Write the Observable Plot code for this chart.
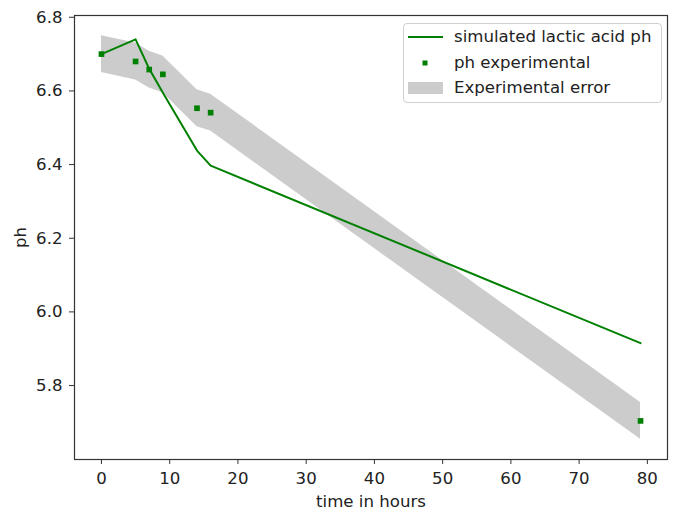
<!DOCTYPE html>
<html>
<head>
<meta charset="utf-8">
<script src="https://cdn.jsdelivr.net/npm/d3@7"></script>
<script src="https://cdn.jsdelivr.net/npm/@observablehq/plot@0.6"></script>
<style>
  html, body { margin: 0; padding: 0; background: #fff; }
  #wrap { position: relative; width: 674px; height: 511px; font-family: "DejaVu Sans", sans-serif; }
  #legend { position: absolute; left: 403px; top: 23px; width: 259px; height: 80px; box-sizing: border-box;
            border: 1px solid #d0d0d0; border-radius: 4px; background: rgba(255,255,255,0.85); }
  .row { position: absolute; left: 0; height: 24px; width: 100%; }
  .row span { position: absolute; left: 50px; top: 0; line-height: 24px; font-size: 16.6px; color: #222; white-space: nowrap; }
  .row svg { position: absolute; left: 0; top: 0; }
</style>
</head>
<body>
<div id="wrap">
  <div id="chart"></div>
  <div id="legend">
    <div class="row" style="top:0.5px"><svg width="50" height="24"><line x1="4" x2="39" y1="12" y2="12" stroke="green" stroke-width="2"/></svg><span>simulated lactic acid ph</span></div>
    <div class="row" style="top:26.5px"><svg width="50" height="24"><rect x="18.5" y="9.5" width="5" height="5" fill="green"/></svg><span>ph experimental</span></div>
    <div class="row" style="top:52px"><svg width="50" height="24"><rect x="4" y="6" width="35" height="12" fill="#cccccc"/></svg><span>Experimental error</span></div>
  </div>
</div>
<script>
const hours = [0, 5, 7, 9, 14, 16, 79];
const phExperimental = [6.700, 6.680, 6.658, 6.645, 6.553, 6.541, 5.704];
const phSimulated = [6.700, 6.740, 6.660, 6.595, 6.438, 6.397, 5.915];
const experimentalError = [0.05, 0.05, 0.05, 0.05, 0.05, 0.05, 0.05];
const xTicks = [0, 10, 20, 30, 40, 50, 60, 70, 80];
const yTicks = [5.8, 6.0, 6.2, 6.4, 6.6, 6.8];

const data = hours.map((h, i) => ({
  hours: h,
  exp: phExperimental[i],
  sim: phSimulated[i],
  lo: phExperimental[i] - experimentalError[i],
  hi: phExperimental[i] + experimentalError[i]
}));

const allY = data.flatMap(d => [d.lo, d.hi, d.sim]);
const yMin = d3.min(allY), yMax = d3.max(allY);
const yPad = (yMax - yMin) * 0.05;
const xMin = d3.min(hours), xMax = d3.max(hours);
const xPad = (xMax - xMin) * 0.05;

const chart = Plot.plot({
  width: 674,
  height: 511,
  marginLeft: 74,
  marginRight: 7,
  marginTop: 15,
  marginBottom: 52,
  style: { fontFamily: "DejaVu Sans, sans-serif", fontSize: "16.6px", color: "#222", background: "#fff" },
  x: { domain: [xMin - xPad, xMax + xPad] },
  y: { domain: [yMin - yPad, yMax + yPad] },
  marks: [
    Plot.areaY(data, { x: "hours", y1: "lo", y2: "hi", fill: "#cccccc" }),
    Plot.line(data, { x: "hours", y: "sim", stroke: "green", strokeWidth: 2 }),
    Plot.dot(data, { x: "hours", y: "exp", symbol: "square", r: 3.2, fill: "green", stroke: "none" }),
    Plot.frame({ stroke: "#333", strokeWidth: 1.2 }),
    Plot.axisX({ ticks: xTicks, tickSize: 5, tickPadding: 8, tickFormat: d3.format("d"), label: "time in hours", labelAnchor: "center", labelArrow: "none", labelOffset: 47, stroke: "#333" }),
    Plot.axisY({ ticks: yTicks, tickSize: 5, tickPadding: 7, tickFormat: d3.format(".1f"), label: "ph", labelAnchor: "center", labelArrow: "none", labelOffset: 60, stroke: "#333" })
  ]
});
document.getElementById("chart").appendChild(chart);
</script>
</body>
</html>
